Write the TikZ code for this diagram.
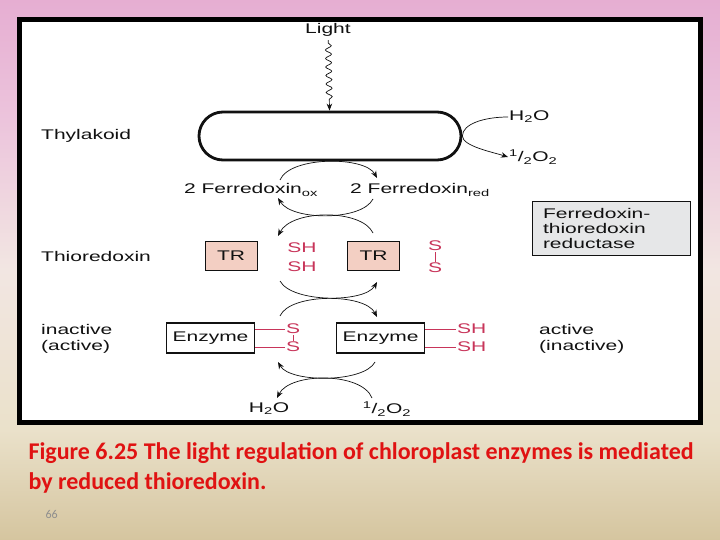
\documentclass[tikz,border=0pt]{standalone}
\usepackage{fontspec}
\setmainfont{Liberation Sans}
\newfontfamily\figfont{Liberation Sans}[FakeStretch=1.5]
\newfontfamily\capfont{Carlito}
\usetikzlibrary{arrows.meta,positioning,decorations.pathmorphing}
\definecolor{ink}{HTML}{111111}
\definecolor{thio}{HTML}{C8355A}
\definecolor{trfill}{HTML}{F3CFC3}
\definecolor{ftrfill}{HTML}{E6E7E8}
\definecolor{capred}{HTML}{E01212}
\definecolor{pagenum}{HTML}{8E8E8E}
\definecolor{bgtop}{HTML}{E6AED2}
\definecolor{bghigh}{HTML}{ECC4DC}
\definecolor{bgmid}{HTML}{F2E6E2}
\definecolor{bglow}{HTML}{EAE1CA}
\definecolor{bgbot}{HTML}{D5C59F}
\pgfdeclareverticalshading{slidebg}{100bp}{color(0bp)=(bgbot); color(25bp)=(bgbot); color(35.2bp)=(bglow); color(50bp)=(bgmid); color(63.9bp)=(bghigh); color(75bp)=(bgtop); color(100bp)=(bgtop)}
\tikzset{
  every node/.style={font=\fontsize{14}{16}\selectfont\figfont, text=ink},
  thylbox/.style={draw=ink, line width=2.8pt, rounded corners=24pt, minimum width=262pt, minimum height=48pt, inner sep=0pt},
  trbox/.style={draw=ink, fill=trfill, line width=0.9pt, minimum width=52pt, minimum height=29pt, inner sep=0pt},
  enzbox/.style={draw=ink, fill=white, line width=1.3pt, minimum width=88pt, minimum height=30pt, inner sep=0pt},
  ftrbox/.style={draw=ink, fill=ftrfill, line width=0.9pt, minimum width=158pt, minimum height=54pt, align=left, text width=136pt, font=\fontsize{14}{15}\selectfont\figfont},
  sidelabel/.style={anchor=west, align=left, inner sep=1pt},
  thiolbl/.style={text=thio, inner sep=1pt},
  thioline/.style={draw=thio, line width=0.9pt},
  cyc/.style={-{Stealth[length=7pt,width=5.5pt]}, line width=0.7pt, draw=ink},
  wave/.style={-{Stealth[length=7pt,width=5.5pt]}, line width=0.7pt, draw=ink, decorate, decoration={snake, amplitude=3pt, segment length=8.5pt, pre length=3pt, post length=7pt}},
  caption/.style={anchor=west, align=left, text=capred, font=\fontsize{24}{30}\selectfont\capfont\bfseries},
}
\begin{document}
\begin{tikzpicture}[x=1pt,y=-1pt]
\fill[shading=slidebg] (0,0) rectangle (720,540);
\useasboundingbox (0,0) rectangle (720,540);
\draw[line width=5pt, fill=white] (19.5,19.5) rectangle (700.5,422.5);
% thylakoid and light
\node (light) at (328,30) {Light};
\node[thylbox] (thyl) at (330,136) {};
\node[sidelabel] (thylLbl) at (40,136) {Thylakoid};
\node[sidelabel] (h2oT) at (508,117) {H\textsubscript{2}O};
\node[sidelabel] (o2T) at (508,157) {\textsuperscript{1}/\textsubscript{2}O\textsubscript{2}};
\draw[wave] (light) -- (thyl);
\draw[cyc] (h2oT.west) .. controls +(-24,0) and +(0,-12) .. (thyl.east) .. controls +(0,10) and +(-16,-5) .. (o2T.west);
% ferredoxin
\node (fdox) at (251,190) {2 Ferredoxin\textsubscript{ox}};
\node (fdred) at (420,190) {2 Ferredoxin\textsubscript{red}};
\node[ftrbox] (ftr) at (611,228) {Ferredoxin-\\thioredoxin\\reductase};
% thioredoxin
\node[sidelabel] (thioLbl) at (40,256) {Thioredoxin};
\node[trbox] (trL) at (231,256) {TR};
\node[trbox] (trR) at (373.5,256) {TR};
\node[thiolbl] (shA) at (302,248) {SH};
\node[thiolbl] (shB) at (302,267) {SH};
\node[thiolbl] (sA) at (435,246) {S};
\node[thiolbl] (sB) at (435,268) {S};
\draw[thioline] (sA) -- (sB);
% enzyme
\node[sidelabel] (inactLbl) at (40,339) {inactive\\(active)};
\node[sidelabel] (actLbl) at (538,339) {active\\(inactive)};
\node[enzbox] (enzL) at (210.5,338) {Enzyme};
\node[enzbox] (enzR) at (380.5,338) {Enzyme};
\node[thiolbl] (ssA) at (293,329) {S};
\node[thiolbl] (ssB) at (293,347) {S};
\node[thiolbl, anchor=west] (shC) at (456,329) {SH};
\node[thiolbl, anchor=west] (shD) at (456,347) {SH};
\draw[thioline] (ssA) -- (ssB);
\draw[thioline] ([yshift=9pt]enzL.east) -- (ssA.west);\draw[thioline] ([yshift=-9pt]enzL.east) -- (ssB.west);
\draw[thioline] ([yshift=9pt]enzR.east) -- (shC.west);\draw[thioline] ([yshift=-9pt]enzR.east) -- (shD.west);
\node (h2oB) at (269,409) {H\textsubscript{2}O};
\node (o2B) at (387,409) {\textsuperscript{1}/\textsubscript{2}O\textsubscript{2}};
% cycle arrows
\coordinate (fdoxUp) at (280,180);\coordinate (fdredUp) at (377,178);
\coordinate (fdredDn) at (373,199);\coordinate (fdoxDn) at (278,198);
\coordinate (trRUp) at (373,233);\coordinate (shUp) at (278,236);
\coordinate (shDn) at (280,281);\coordinate (trRDn) at (377,282);
\coordinate (ssUp) at (280,316);\coordinate (enzRUp) at (377,317);
\coordinate (enzRDn) at (375,362);\coordinate (ssDn) at (278,362);
\coordinate (o2Up) at (372,398);\coordinate (h2oUp) at (277,398);
\draw[cyc] (fdoxUp) .. controls (290,156) and (365,156) .. (fdredUp);
\draw[cyc] (fdredDn) .. controls (362,221) and (292,221) .. (fdoxDn);
\draw[cyc] (trRUp) .. controls (362,209) and (292,209) .. (shUp);
\draw[cyc] (shDn) .. controls (292,303) and (365,303) .. (trRDn);
\draw[cyc] (ssUp) .. controls (290,293) and (365,293) .. (enzRUp);
\draw[cyc] (enzRDn) .. controls (364,383) and (290,383) .. (ssDn);
\draw[cyc] (o2Up) .. controls (362,372) and (290,372) .. (h2oUp);
% caption
\node[caption] (cap) at (25,468) {Figure 6.25 The light regulation of chloroplast enzymes is mediated\\by reduced thioredoxin.};
\node[anchor=west, text=pagenum, font=\fontsize{12}{14}\selectfont\capfont] (pg) at (42,514) {66};
\end{tikzpicture}
\end{document}
